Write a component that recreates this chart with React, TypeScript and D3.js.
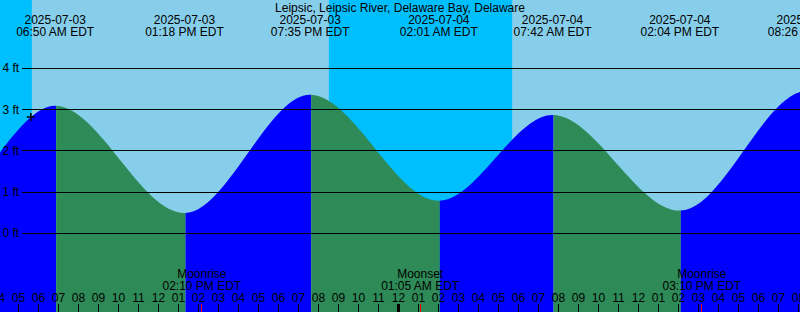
import React from "react";
import * as d3 from "d3";

const W = 800;
const H = 312;

const title = "Leipsic, Leipsic River, Delaware Bay, Delaware";
const domainTimes = ["2025-07-03T04:04:30", "2025-07-04T20:04:30"];

// High / low tide extremes (first and last two are off-screen estimates)
const tideTimes = [
  "2025-07-02T18:40:00",
  "2025-07-03T00:57:00",
  "2025-07-03T06:50:00",
  "2025-07-03T13:18:00",
  "2025-07-03T19:35:00",
  "2025-07-04T02:01:00",
  "2025-07-04T07:42:00",
  "2025-07-04T14:04:00",
  "2025-07-04T20:26:00",
  "2025-07-05T02:50:00",
];
const tideHeights = [3.3, 0.6, 3.09, 0.49, 3.36, 0.79, 2.87, 0.55, 3.45, 0.7];

const nightStarts = ["2025-07-02T20:31:00", "2025-07-03T20:31:00"];
const nightEnds = ["2025-07-03T05:40:00", "2025-07-04T05:41:00"];

const moonTimes = ["2025-07-03T14:10:00", "2025-07-04T01:05:00", "2025-07-04T15:10:00"];
const moonLabels = ["Moonrise", "Moonset", "Moonrise"];

const heightTicks = [0, 1, 2, 3, 4];

const nowTime = "2025-07-03T05:37:00";
const nowHeight = 2.82;

const COLORS = {
  day: "#87CEEB",
  night: "#00BFFF",
  rising: "#0000FF",
  falling: "#2E8B57",
  moonTick: "#FF0000",
};

const parse = d3.timeParse("%Y-%m-%dT%H:%M:%S");
const fmtDate = d3.timeFormat("%Y-%m-%d");
const fmtTime = d3.timeFormat("%I:%M %p EDT");
const fmtHour = d3.timeFormat("%I");

export default function App() {
  const start = parse(domainTimes[0])!;
  const end = parse(domainTimes[1])!;
  const x = d3.scaleTime().domain([start, end]).range([0, W]);
  const y = d3.scaleLinear().domain([0, 4]).range([233.3, 68.3]);

  const tides: [Date, number][] = tideTimes.map((t, i) => [parse(t)!, tideHeights[i]]);
  const area = d3
    .area<[Date, number]>()
    .x((d) => x(d[0]))
    .y0(H)
    .y1((d) => y(d[1]))
    .curve(d3.curveMonotoneX);
  const areaPath = area(tides) || "";

  const hours = d3.timeHour.range(d3.timeHour.floor(start), d3.timeHour.offset(end, 1));
  const font = "'Liberation Sans', Arial, Helvetica, sans-serif";
  const visibleTides = tides.filter((d) => x(d[0]) >= 0 && x(d[0]) <= W + 20);

  return (
    <svg
      width={W}
      height={H}
      style={{ position: "absolute", left: 0, top: 0, display: "block" }}
      fontFamily={font}
      fontSize={12}
    >
      <defs>
        {tides.slice(0, -1).map((d, i) => (
          <clipPath id={`seg${i}`} key={i}>
            <rect x={x(d[0]) + 1} y={0} width={x(tides[i + 1][0]) - x(d[0])} height={H} />
          </clipPath>
        ))}
      </defs>
      <rect x={0} y={0} width={W} height={H} fill={COLORS.day} />
      {nightStarts.map((s, i) => {
        const x0 = Math.max(0, x(parse(s)!));
        const x1 = Math.min(W, x(parse(nightEnds[i])!));
        return x1 > x0 ? (
          <rect key={i} x={x0} y={0} width={x1 - x0} height={H} fill={COLORS.night} />
        ) : null;
      })}
      {tides.slice(0, -1).map((d, i) => (
        <path
          key={i}
          d={areaPath}
          clipPath={`url(#seg${i})`}
          fill={tides[i + 1][1] > d[1] ? COLORS.rising : COLORS.falling}
        />
      ))}
      {heightTicks.map((h) => (
        <g key={h}>
          <line x1={22} x2={W} y1={y(h)} y2={y(h)} stroke="#000" strokeWidth={1} shapeRendering="crispEdges" />
          <text x={2.5} y={y(h) + 4} fill="#000">{`${h} ft`}</text>
        </g>
      ))}
      <text x={W / 2} y={12} textAnchor="middle" fill="#000">{title}</text>
      {visibleTides.map((d, i) => (
        <g key={i}>
          <text x={x(d[0])} y={24} textAnchor="middle" fill="#000">{fmtDate(d[0])}</text>
          <text x={x(d[0])} y={36} textAnchor="middle" fill="#000">{fmtTime(d[0])}</text>
        </g>
      ))}
      {moonTimes.map((t, i) => {
        const d = parse(t)!;
        return (
          <g key={i}>
            <text x={x(d)} y={278} textAnchor="middle" fill="#000">{moonLabels[i]}</text>
            <text x={x(d)} y={290} textAnchor="middle" fill="#000">{fmtTime(d)}</text>
          </g>
        );
      })}
      {hours.map((h, i) => {
        const hx = x(h);
        const midnight = h.getHours() === 0;
        return (
          <g key={i}>
            <text x={hx} y={302} textAnchor="middle" fill="#000">{fmtHour(h)}</text>
            {midnight ? (
              <rect x={hx - 1.5} y={304} width={3} height={8} fill="#000" />
            ) : (
              <line x1={hx} x2={hx} y1={304} y2={H} stroke="#000" strokeWidth={1} shapeRendering="crispEdges" />
            )}
          </g>
        );
      })}
      {moonTimes.map((t, i) => {
        const mx = x(parse(t)!);
        return (
          <line key={i} x1={mx} x2={mx} y1={304} y2={H} stroke={COLORS.moonTick} strokeWidth={1} shapeRendering="crispEdges" />
        );
      })}
      <path
        transform={`translate(${x(parse(nowTime)!)},${y(nowHeight)})`}
        d="M-4,0H4M0,-4V4"
        stroke="#000"
        strokeWidth={1.5}
        fill="none"
      />
    </svg>
  );
}
